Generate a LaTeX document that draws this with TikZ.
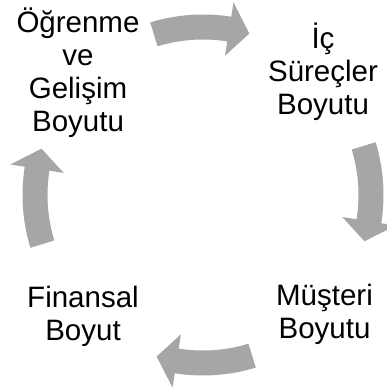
\documentclass[tikz,border=0pt]{standalone}
\usepackage{fontspec}
\setmainfont{Liberation Sans}
\usetikzlibrary{calc}
\definecolor{arrowgray}{RGB}{166,166,166}
\tikzset{
    % Colors
    cycle arrow color/.style={fill=arrowgray,draw=none},
    %
    % Nodes
    boyut/.style={align=center,inner sep=0pt,font=\fontsize{29.5}{33}\selectfont},
}
% block arrow bent round the centre, #1 = middle angle
\newcommand{\bentarrow}[1]{%
    \fill[cycle arrow color] (#1+17:180.5) arc[start angle=#1+17, end angle=#1-9, radius=180.5]
        -- (#1-9:195) -- (#1-16:168) -- (#1-9:141) -- (#1-9:155.5)
        arc[start angle=#1-9, end angle=#1+17, radius=155.5] -- cycle;
}

\begin{document}
\begin{tikzpicture}[x=1pt,y=1pt]
        \useasboundingbox (0,0) rectangle (387,390);
        \clip (0,0) rectangle (387,390);
        \node[boyut] (ogrenme) at (78,317) {Öğrenme\\ve\\Gelişim\\Boyutu};
        \node[boyut] (surecler) at (323,318) {İç\\Süreçler\\Boyutu};
        \node[boyut] (musteri) at (324.5,75.5) {Müşteri\\Boyutu};
        \node[boyut] (finansal) at (83,74) {Finansal\\Boyut};
        \begin{scope}[shift={(203,195)}]
            \bentarrow{90}
            \bentarrow{0}
            \bentarrow{270}
            \bentarrow{180}
        \end{scope}
    \end{tikzpicture}
\end{document}
